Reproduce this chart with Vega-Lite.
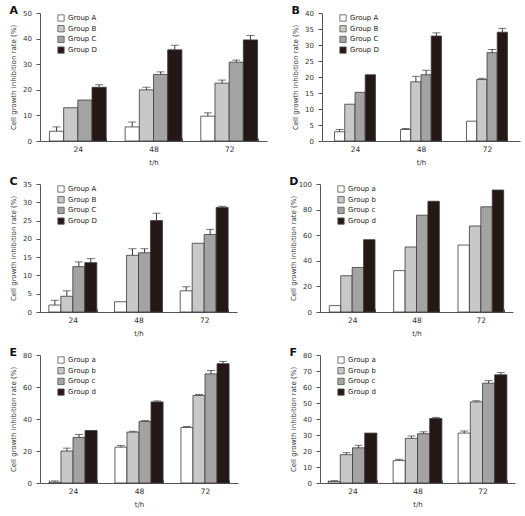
{
  "$schema": "https://vega.github.io/schema/vega-lite/v6.json",
  "padding": {"left": 9, "top": 5, "right": 2, "bottom": 2},
  "config": {
    "font": "DejaVu Sans",
    "view": {"stroke": null},
    "axis": {"labelFontSize": 7, "titleFontSize": 7, "titleFontWeight": "normal", "labelColor": "#333", "titleColor": "#333", "domainColor": "#555", "tickColor": "#555", "grid": false, "tickSize": 4, "labelPadding": 4.5, "titlePadding": 6},
    "axisX": {"tickSize": -3, "labelPadding": 7, "titlePadding": 6, "labelAngle": 0, "tickBand": "extent", "labelFontSize": 7.5},
    "title": {"anchor": "start", "frame": "bounds", "fontSize": 11, "fontWeight": "bold", "offset": 0, "dy": 11, "color": "#111"},
    "legend": {"orient": "none", "legendX": 17, "legendY": 1, "title": null, "labelFontSize": 7, "labelColor": "#222", "symbolType": "square", "symbolSize": 40, "symbolStrokeColor": "#555", "symbolStrokeWidth": 0.8, "rowPadding": 0.7, "labelOffset": 3},
    "bar": {"stroke": "#3a3a3a", "strokeWidth": 0.8},
    "rule": {"color": "#3a3a3a"},
    "tick": {"color": "#3a3a3a", "size": 8, "thickness": 1}
  },
  "resolve": {"scale": {"x": "independent", "y": "independent", "color": "independent", "xOffset": "independent"}, "axis": {"x": "independent", "y": "independent"}, "legend": {"color": "independent"}},
  "spacing": 10,
  "vconcat": [
    {
      "spacing": 24,
      "resolve": {"scale": {"x": "independent", "y": "independent", "color": "independent", "xOffset": "independent"}, "axis": {"x": "independent", "y": "independent"}, "legend": {"color": "independent"}},
      "hconcat": [
        {
          "title": "A",
          "width": 227, "height": 128,
          "data": {"values": [
            {"t": "24", "g": "Group A", "v": 3.8, "hi": 5.5},
            {"t": "24", "g": "Group B", "v": 13, "hi": null},
            {"t": "24", "g": "Group C", "v": 16, "hi": null},
            {"t": "24", "g": "Group D", "v": 21, "hi": 22},
            {"t": "48", "g": "Group A", "v": 5.5, "hi": 7.4},
            {"t": "48", "g": "Group B", "v": 20, "hi": 21},
            {"t": "48", "g": "Group C", "v": 26, "hi": 27},
            {"t": "48", "g": "Group D", "v": 35.6, "hi": 37.4},
            {"t": "72", "g": "Group A", "v": 9.7, "hi": 11},
            {"t": "72", "g": "Group B", "v": 22.6, "hi": 23.8},
            {"t": "72", "g": "Group C", "v": 30.8, "hi": 31.6},
            {"t": "72", "g": "Group D", "v": 39.5, "hi": 41.2}
          ]},
          "encoding": {
            "x": {"field": "t", "type": "nominal", "sort": ["24", "48", "72"], "scale": {"paddingInner": 0.25, "paddingOuter": 0.125}, "axis": {"title": "t/h"}},
            "xOffset": {"field": "g", "type": "nominal", "sort": ["Group A", "Group B", "Group C", "Group D"]}
          },
          "layer": [
            {"mark": "bar", "encoding": {
              "y": {"field": "v", "type": "quantitative", "scale": {"domain": [0, 50]}, "axis": {"title": "Cell growth inhibition rate (%)", "values": [0, 10, 20, 30, 40, 50]}},
              "color": {"field": "g", "type": "nominal", "scale": {"domain": ["Group A", "Group B", "Group C", "Group D"], "range": ["#ffffff", "#c8c8c8", "#a3a3a3", "#231815"]}}
            }},
            {"transform": [{"filter": "datum.hi != null"}], "mark": "rule", "encoding": {"y": {"field": "v", "type": "quantitative", "scale": {"domain": [0, 50]}, "axis": {"title": "Cell growth inhibition rate (%)", "values": [0, 10, 20, 30, 40, 50]}}, "y2": {"field": "hi"}}},
            {"transform": [{"filter": "datum.hi != null"}], "mark": "tick", "encoding": {"y": {"field": "hi", "type": "quantitative", "scale": {"domain": [0, 50]}, "axis": {"title": "Cell growth inhibition rate (%)", "values": [0, 10, 20, 30, 40, 50]}}}}
          ]
        },
        {
          "title": "B",
          "width": 198, "height": 128,
          "data": {"values": [
            {"t": "24", "g": "Group A", "v": 2.9, "hi": 3.6},
            {"t": "24", "g": "Group B", "v": 11.5, "hi": null},
            {"t": "24", "g": "Group C", "v": 15.2, "hi": null},
            {"t": "24", "g": "Group D", "v": 20.7, "hi": null},
            {"t": "48", "g": "Group A", "v": 3.6, "hi": 3.9},
            {"t": "48", "g": "Group B", "v": 18.5, "hi": 20.2},
            {"t": "48", "g": "Group C", "v": 20.7, "hi": 22.1},
            {"t": "48", "g": "Group D", "v": 32.8, "hi": 33.8},
            {"t": "72", "g": "Group A", "v": 6.2, "hi": null},
            {"t": "72", "g": "Group B", "v": 19.2, "hi": 19.6},
            {"t": "72", "g": "Group C", "v": 27.6, "hi": 28.6},
            {"t": "72", "g": "Group D", "v": 34, "hi": 35.2}
          ]},
          "encoding": {
            "x": {"field": "t", "type": "nominal", "sort": ["24", "48", "72"], "scale": {"paddingInner": 0.38, "paddingOuter": 0.19}, "axis": {"title": "t/h"}},
            "xOffset": {"field": "g", "type": "nominal", "sort": ["Group A", "Group B", "Group C", "Group D"]}
          },
          "layer": [
            {"mark": "bar", "encoding": {
              "y": {"field": "v", "type": "quantitative", "scale": {"domain": [0, 40]}, "axis": {"title": "Cell growth inhibition rate (%)", "values": [0, 5, 10, 15, 20, 25, 30, 35, 40]}},
              "color": {"field": "g", "type": "nominal", "scale": {"domain": ["Group A", "Group B", "Group C", "Group D"], "range": ["#ffffff", "#c8c8c8", "#a3a3a3", "#231815"]}}
            }},
            {"transform": [{"filter": "datum.hi != null"}], "mark": "rule", "encoding": {"y": {"field": "v", "type": "quantitative", "scale": {"domain": [0, 40]}, "axis": {"title": "Cell growth inhibition rate (%)", "values": [0, 5, 10, 15, 20, 25, 30, 35, 40]}}, "y2": {"field": "hi"}}},
            {"transform": [{"filter": "datum.hi != null"}], "mark": "tick", "encoding": {"y": {"field": "hi", "type": "quantitative", "scale": {"domain": [0, 40]}, "axis": {"title": "Cell growth inhibition rate (%)", "values": [0, 5, 10, 15, 20, 25, 30, 35, 40]}}}}
          ]
        }
      ]
    },
    {
      "spacing": 52,
      "resolve": {"scale": {"x": "independent", "y": "independent", "color": "independent", "xOffset": "independent"}, "axis": {"x": "independent", "y": "independent"}, "legend": {"color": "independent"}},
      "hconcat": [
        {
          "title": "C",
          "width": 197, "height": 128,
          "data": {"values": [
            {"t": "24", "g": "Group A", "v": 1.9, "hi": 3.2},
            {"t": "24", "g": "Group B", "v": 4.3, "hi": 5.8},
            {"t": "24", "g": "Group C", "v": 12.4, "hi": 13.7},
            {"t": "24", "g": "Group D", "v": 13.5, "hi": 14.6},
            {"t": "48", "g": "Group A", "v": 2.8, "hi": null},
            {"t": "48", "g": "Group B", "v": 15.5, "hi": 17.3},
            {"t": "48", "g": "Group C", "v": 16.2, "hi": 17.3},
            {"t": "48", "g": "Group D", "v": 25, "hi": 27},
            {"t": "72", "g": "Group A", "v": 5.8, "hi": 6.9},
            {"t": "72", "g": "Group B", "v": 18.8, "hi": null},
            {"t": "72", "g": "Group C", "v": 21.2, "hi": 22.6},
            {"t": "72", "g": "Group D", "v": 28.6, "hi": 28.9}
          ]},
          "encoding": {
            "x": {"field": "t", "type": "nominal", "sort": ["24", "48", "72"], "scale": {"paddingInner": 0.27, "paddingOuter": 0.135}, "axis": {"title": "t/h"}},
            "xOffset": {"field": "g", "type": "nominal", "sort": ["Group A", "Group B", "Group C", "Group D"]}
          },
          "layer": [
            {"mark": "bar", "encoding": {
              "y": {"field": "v", "type": "quantitative", "scale": {"domain": [0, 35]}, "axis": {"title": "Cell growth inhibition rate (%)", "values": [0, 5, 10, 15, 20, 25, 30, 35]}},
              "color": {"field": "g", "type": "nominal", "scale": {"domain": ["Group A", "Group B", "Group C", "Group D"], "range": ["#ffffff", "#c8c8c8", "#a3a3a3", "#231815"]}}
            }},
            {"transform": [{"filter": "datum.hi != null"}], "mark": "rule", "encoding": {"y": {"field": "v", "type": "quantitative", "scale": {"domain": [0, 35]}, "axis": {"title": "Cell growth inhibition rate (%)", "values": [0, 5, 10, 15, 20, 25, 30, 35]}}, "y2": {"field": "hi"}}},
            {"transform": [{"filter": "datum.hi != null"}], "mark": "tick", "encoding": {"y": {"field": "hi", "type": "quantitative", "scale": {"domain": [0, 35]}, "axis": {"title": "Cell growth inhibition rate (%)", "values": [0, 5, 10, 15, 20, 25, 30, 35]}}}}
          ]
        },
        {
          "title": "D",
          "width": 193, "height": 128,
          "data": {"values": [
            {"t": "24", "g": "Group a", "v": 5},
            {"t": "24", "g": "Group b", "v": 28.3},
            {"t": "24", "g": "Group c", "v": 34.8},
            {"t": "24", "g": "Group d", "v": 56.5},
            {"t": "48", "g": "Group a", "v": 32.3},
            {"t": "48", "g": "Group b", "v": 50.8},
            {"t": "48", "g": "Group c", "v": 75.6},
            {"t": "48", "g": "Group d", "v": 86.5},
            {"t": "72", "g": "Group a", "v": 52.3},
            {"t": "72", "g": "Group b", "v": 67.2},
            {"t": "72", "g": "Group c", "v": 82.2},
            {"t": "72", "g": "Group d", "v": 95.3}
          ]},
          "encoding": {
            "x": {"field": "t", "type": "nominal", "sort": ["24", "48", "72"], "scale": {"paddingInner": 0.29, "paddingOuter": 0.145}, "axis": {"title": "t/h"}},
            "xOffset": {"field": "g", "type": "nominal", "sort": ["Group a", "Group b", "Group c", "Group d"]}
          },
          "layer": [
            {"mark": "bar", "encoding": {
              "y": {"field": "v", "type": "quantitative", "scale": {"domain": [0, 100]}, "axis": {"title": "Cell growth inhibition rate (%)", "values": [0, 20, 40, 60, 80, 100], "titlePadding": 2}},
              "color": {"field": "g", "type": "nominal", "scale": {"domain": ["Group a", "Group b", "Group c", "Group d"], "range": ["#ffffff", "#c8c8c8", "#a3a3a3", "#231815"]}}
            }}
          ]
        }
      ]
    },
    {
      "spacing": 51,
      "resolve": {"scale": {"x": "independent", "y": "independent", "color": "independent", "xOffset": "independent"}, "axis": {"x": "independent", "y": "independent"}, "legend": {"color": "independent"}},
      "hconcat": [
        {
          "title": "E",
          "width": 198, "height": 128,
          "data": {"values": [
            {"t": "24", "g": "Group a", "v": 0.5, "hi": 1.3},
            {"t": "24", "g": "Group b", "v": 20, "hi": 21.8},
            {"t": "24", "g": "Group c", "v": 28.5, "hi": 30.3},
            {"t": "24", "g": "Group d", "v": 32.8, "hi": null},
            {"t": "48", "g": "Group a", "v": 22.4, "hi": 23.4},
            {"t": "48", "g": "Group b", "v": 31.8, "hi": 32.3},
            {"t": "48", "g": "Group c", "v": 38.5, "hi": 39},
            {"t": "48", "g": "Group d", "v": 50.7, "hi": 51.3},
            {"t": "72", "g": "Group a", "v": 34.7, "hi": 35.3},
            {"t": "72", "g": "Group b", "v": 54.7, "hi": 55.3},
            {"t": "72", "g": "Group c", "v": 68.2, "hi": 70.3},
            {"t": "72", "g": "Group d", "v": 74.6, "hi": 76}
          ]},
          "encoding": {
            "x": {"field": "t", "type": "nominal", "sort": ["24", "48", "72"], "scale": {"paddingInner": 0.27, "paddingOuter": 0.135}, "axis": {"title": "t/h"}},
            "xOffset": {"field": "g", "type": "nominal", "sort": ["Group a", "Group b", "Group c", "Group d"]}
          },
          "layer": [
            {"mark": "bar", "encoding": {
              "y": {"field": "v", "type": "quantitative", "scale": {"domain": [0, 80]}, "axis": {"title": "Cell growth inhibition rate (%)", "values": [0, 20, 40, 60, 80]}},
              "color": {"field": "g", "type": "nominal", "scale": {"domain": ["Group a", "Group b", "Group c", "Group d"], "range": ["#ffffff", "#c8c8c8", "#a3a3a3", "#231815"]}}
            }},
            {"transform": [{"filter": "datum.hi != null"}], "mark": "rule", "encoding": {"y": {"field": "v", "type": "quantitative", "scale": {"domain": [0, 80]}, "axis": {"title": "Cell growth inhibition rate (%)", "values": [0, 20, 40, 60, 80]}}, "y2": {"field": "hi"}}},
            {"transform": [{"filter": "datum.hi != null"}], "mark": "tick", "encoding": {"y": {"field": "hi", "type": "quantitative", "scale": {"domain": [0, 80]}, "axis": {"title": "Cell growth inhibition rate (%)", "values": [0, 20, 40, 60, 80]}}}}
          ]
        },
        {
          "title": "F",
          "width": 195, "height": 128,
          "data": {"values": [
            {"t": "24", "g": "Group a", "v": 0.9, "hi": 1.5},
            {"t": "24", "g": "Group b", "v": 17.7, "hi": 19},
            {"t": "24", "g": "Group c", "v": 22, "hi": 23.6},
            {"t": "24", "g": "Group d", "v": 31.2, "hi": null},
            {"t": "48", "g": "Group a", "v": 14, "hi": 14.8},
            {"t": "48", "g": "Group b", "v": 27.9, "hi": 29.4},
            {"t": "48", "g": "Group c", "v": 30.8, "hi": 32},
            {"t": "48", "g": "Group d", "v": 40.3, "hi": 41},
            {"t": "72", "g": "Group a", "v": 31.2, "hi": 32.5},
            {"t": "72", "g": "Group b", "v": 50.7, "hi": 51.4},
            {"t": "72", "g": "Group c", "v": 62.4, "hi": 64},
            {"t": "72", "g": "Group d", "v": 67.6, "hi": 69}
          ]},
          "encoding": {
            "x": {"field": "t", "type": "nominal", "sort": ["24", "48", "72"], "scale": {"paddingInner": 0.25, "paddingOuter": 0.125}, "axis": {"title": "t/h"}},
            "xOffset": {"field": "g", "type": "nominal", "sort": ["Group a", "Group b", "Group c", "Group d"]}
          },
          "layer": [
            {"mark": "bar", "encoding": {
              "y": {"field": "v", "type": "quantitative", "scale": {"domain": [0, 80]}, "axis": {"title": "Cell growth inhibition rate (%)", "values": [0, 10, 20, 30, 40, 50, 60, 70, 80]}},
              "color": {"field": "g", "type": "nominal", "scale": {"domain": ["Group a", "Group b", "Group c", "Group d"], "range": ["#ffffff", "#c8c8c8", "#a3a3a3", "#231815"]}}
            }},
            {"transform": [{"filter": "datum.hi != null"}], "mark": "rule", "encoding": {"y": {"field": "v", "type": "quantitative", "scale": {"domain": [0, 80]}, "axis": {"title": "Cell growth inhibition rate (%)", "values": [0, 10, 20, 30, 40, 50, 60, 70, 80]}}, "y2": {"field": "hi"}}},
            {"transform": [{"filter": "datum.hi != null"}], "mark": "tick", "encoding": {"y": {"field": "hi", "type": "quantitative", "scale": {"domain": [0, 80]}, "axis": {"title": "Cell growth inhibition rate (%)", "values": [0, 10, 20, 30, 40, 50, 60, 70, 80]}}}}
          ]
        }
      ]
    }
  ]
}
